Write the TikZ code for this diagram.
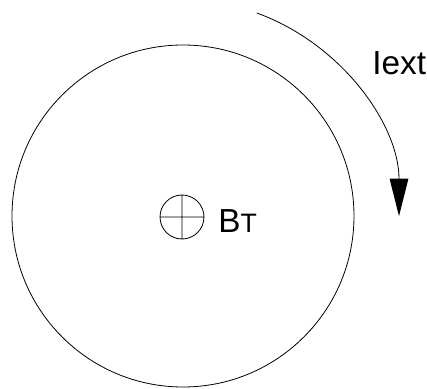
\documentclass[tikz,border=0pt]{standalone}
\usepackage{fontspec}
\setmainfont{Liberation Sans}
\usetikzlibrary{arrows.meta,positioning,calc}

\begin{document}
\begin{tikzpicture}[x=0.75pt,y=0.75pt,line width=0.6pt]
\useasboundingbox(-183,-172)rectangle(244,216);
\draw(0,0)circle(171);
\coordinate(bt)at(-1,-1);
\draw(bt)circle(22)($(bt)+(0,22)$)--($(bt)+(0,-22)$)($(bt)+(-22,0)$)--($(bt)+(22,0)$);
\node[anchor=base west,inner sep=0pt,font=\fontsize{25}{25}\selectfont](btl)at(35,-17){B{\fontsize{20}{20}\selectfont T}};
\coordinate(is)at(70:216);\coordinate(ie)at(0:216);
\draw[-{Triangle[length=28pt,width=14pt]}](is)arc[start angle=70,end angle=0,radius=216];
\node[anchor=base west,inner sep=0pt,font=\fontsize{25}{25}\selectfont](iext)at(189,141){Iext};
\end{tikzpicture}
\end{document}
